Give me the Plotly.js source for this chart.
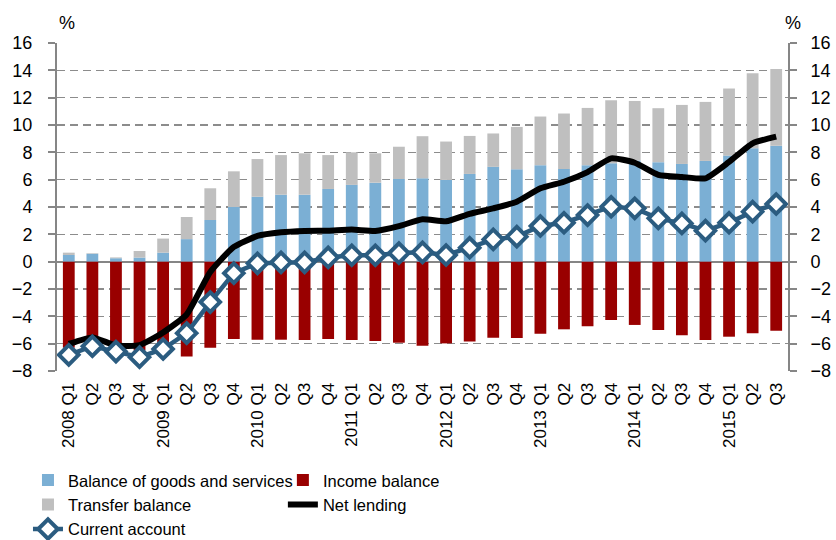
<!DOCTYPE html>
<html>
<head>
<meta charset="utf-8">
<script src="https://cdn.plot.ly/plotly-3.0.1.min.js"></script>
<style>html,body{margin:0;padding:0;background:#fff;}#chart{width:836px;height:540px;}</style>
</head>
<body>
<div id="chart"></div>
<script>
const quarterLabels = ['2008 Q1','Q2','Q3','Q4','2009 Q1','Q2','Q3','Q4','2010 Q1','Q2','Q3','Q4',
  '2011 Q1','Q2','Q3','Q4','2012 Q1','Q2','Q3','Q4','2013 Q1','Q2','Q3','Q4',
  '2014 Q1','Q2','Q3','Q4','2015 Q1','Q2','Q3'];

const goodsServices = [0.49,0.58,0.25,0.30,0.66,1.65,3.05,4.00,4.75,4.90,4.90,5.32,5.62,5.78,6.05,6.10,
  5.98,6.42,6.94,6.76,7.06,6.78,7.06,7.20,7.40,7.28,7.15,7.37,7.76,8.30,8.48];
const incomeBalance = [-6.3,-6.0,-6.3,-6.5,-6.2,-6.93,-6.3,-5.66,-5.71,-5.71,-5.73,-5.66,-5.73,-5.81,-5.93,-6.15,
  -5.98,-5.85,-5.56,-5.59,-5.27,-4.95,-4.73,-4.27,-4.63,-5.0,-5.39,-5.73,-5.49,-5.24,-5.05];
const transferBalance = [0.17,0.04,0.06,0.48,1.03,1.62,2.32,2.61,2.76,2.90,3.03,2.48,2.38,2.15,2.36,3.08,
  2.81,2.78,2.44,3.10,3.56,4.06,4.19,4.61,4.36,3.95,4.32,4.32,4.91,5.49,5.62];
const netLending = [-6.02,-5.54,-6.14,-6.10,-5.18,-3.86,-0.75,1.08,1.88,2.15,2.25,2.27,2.35,2.25,2.60,3.10,
  2.95,3.50,3.90,4.39,5.37,5.85,6.55,7.56,7.24,6.35,6.20,6.10,7.30,8.66,9.15];
const currentAccount = [-6.82,-6.19,-6.58,-6.99,-6.39,-5.23,-2.96,-0.84,-0.12,-0.05,-0.05,0.31,0.47,0.47,0.63,0.68,
  0.49,1.02,1.63,1.83,2.61,2.85,3.41,4.02,3.90,3.17,2.80,2.27,2.85,3.66,4.22];

const xIdx = quarterLabels.map((_, i) => i);
const FONT = '"Liberation Sans", Arial, sans-serif';

const traces = [
  {type:'bar', name:'Balance of goods and services', x:xIdx, y:goodsServices,
   marker:{color:'#7BAFD4'}, width:0.5, legend:'legend'},
  {type:'bar', name:'Income balance', x:xIdx, y:incomeBalance,
   marker:{color:'#990000'}, width:0.5, legend:'legend2'},
  {type:'bar', name:'Transfer balance', x:xIdx, y:transferBalance,
   marker:{color:'#BFBFBF'}, width:0.5, legend:'legend'},
  {type:'scatter', mode:'lines', name:'Net lending', x:xIdx, y:netLending,
   line:{color:'#000000', width:6, shape:'spline', smoothing:0.5}, legend:'legend2'},
  {type:'scatter', mode:'lines+markers', name:'Current account', x:xIdx, y:currentAccount,
   line:{color:'#2B5C80', width:4.5},
   marker:{symbol:'diamond', size:15, color:'#FFFFFF', line:{color:'#2B5C80', width:4}}, legend:'legend'},
  {type:'scatter', mode:'markers', x:[0], y:[0], yaxis:'y2', showlegend:false, hoverinfo:'skip',
   marker:{opacity:0}}
];

const layout = {
  width:836, height:540,
  margin:{l:57, r:48, t:43, b:169, autoexpand:false},
  paper_bgcolor:'#ffffff', plot_bgcolor:'#ffffff',
  barmode:'relative', bargap:0.5,
  font:{family:FONT, size:18, color:'#000'},
  showlegend:true,
  xaxis:{
    range:[-0.5,30.5], tickmode:'array', tickvals:xIdx, ticktext:quarterLabels,
    tickangle:-90, ticks:'outside', ticklen:4, tickcolor:'rgba(0,0,0,0)',
    showgrid:false, zeroline:false, showline:false, automargin:false,
    tickfont:{family:FONT, size:17, color:'#000'}
  },
  xaxis2:{
    overlaying:'x', anchor:'free', position:1/3, side:'bottom',
    range:[-0.5,30.5], tickmode:'array',
    tickvals:xIdx.map(i => i + 0.5),
    ticks:'outside', ticklen:6, tickwidth:2, tickcolor:'#868686',
    showticklabels:false, showgrid:false, zeroline:false, showline:false
  },
  yaxis:{
    range:[-8,16], tickmode:'linear', tick0:-8, dtick:2,
    showgrid:true, gridcolor:'#8c8c8c', gridwidth:1.5, griddash:'8px,5px',
    zeroline:true, zerolinecolor:'#868686', zerolinewidth:2,
    showline:true, linecolor:'#868686', linewidth:2,
    ticks:'outside', ticklen:7, tickwidth:2, tickcolor:'#868686',
    ticklabelstandoff:12, automargin:false,
    tickfont:{family:FONT, size:18, color:'#000'}
  },
  yaxis2:{
    overlaying:'y', side:'right', anchor:'x',
    range:[-8,16], tickmode:'linear', tick0:-8, dtick:2,
    showgrid:false, zeroline:false,
    showline:true, linecolor:'#868686', linewidth:2,
    ticks:'outside', ticklen:7, tickwidth:2, tickcolor:'#868686',
    ticklabelstandoff:10, automargin:false,
    tickfont:{family:FONT, size:18, color:'#000'}
  },
  legend:{
    x:-0.0397, y:-0.280, xanchor:'left', yanchor:'top',
    orientation:'v', bgcolor:'rgba(0,0,0,0)', traceorder:'normal',
    font:{family:FONT, size:16.5, color:'#000'}, tracegroupgap:0
  },
  legend2:{
    x:0.309, y:-0.280, xanchor:'left', yanchor:'top',
    orientation:'v', bgcolor:'rgba(0,0,0,0)', traceorder:'normal',
    font:{family:FONT, size:16.5, color:'#000'}, tracegroupgap:0
  },
  annotations:[
    {text:'%', xref:'paper', yref:'paper', x:0.0137, y:1.061, xanchor:'center', yanchor:'middle',
     showarrow:false, font:{family:FONT, size:18, color:'#000'}},
    {text:'%', xref:'paper', yref:'paper', x:1.0068, y:1.061, xanchor:'center', yanchor:'middle',
     showarrow:false, font:{family:FONT, size:18, color:'#000'}}
  ]
};

Plotly.newPlot('chart', traces, layout, {displayModeBar:false, staticPlot:true});
</script>
</body>
</html>
